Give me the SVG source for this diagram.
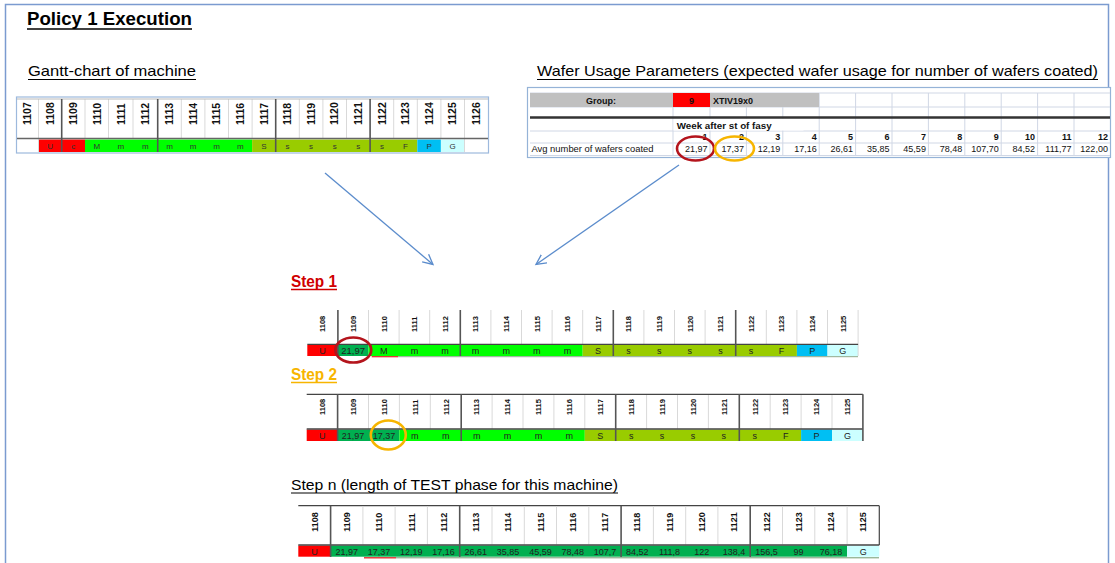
<svg xmlns="http://www.w3.org/2000/svg" width="1115" height="563" viewBox="0 0 1115 563">
<style>
.t{font-family:"Liberation Sans",Arial,sans-serif}
.ttl{font-family:"Liberation Sans",Arial,sans-serif;font-weight:bold;font-size:19px;fill:#000}
.sub{font-family:"Liberation Sans",Arial,sans-serif;font-size:15px;fill:#000}
.stp{font-family:"Liberation Sans",Arial,sans-serif;font-weight:bold;font-size:16px}
.h1{font-family:"Liberation Sans",Arial,sans-serif;font-weight:bold;font-size:10.5px;fill:#111}
.h2{font-family:"Liberation Sans",Arial,sans-serif;font-weight:bold;font-size:7.5px;fill:#111}
.h3{font-family:"Liberation Sans",Arial,sans-serif;font-weight:bold;font-size:9px;fill:#111}
.c1{font-family:"Liberation Sans",Arial,sans-serif;font-size:8px;fill:#333;text-anchor:middle}
.c2{font-family:"Liberation Sans",Arial,sans-serif;font-size:9px;fill:#222;text-anchor:middle}
.w{font-family:"Liberation Sans",Arial,sans-serif;font-size:9px;fill:#111}
.wb{font-family:"Liberation Sans",Arial,sans-serif;font-size:9px;font-weight:bold;fill:#111}
.r{text-anchor:end}
.lg{stroke:#d9d9d9;stroke-width:1}
.tk{stroke:#555;stroke-width:1.6}
.dk{stroke:#444;stroke-width:1.3}
.red{fill:#ff0000}.grn{fill:#00ff00}.dg{fill:#00b050}.yg{fill:#99cc00}.cy{fill:#00bff3}.lc{fill:#ccffff}
.arr{stroke:#5b8ccc;stroke-width:1.3;fill:none}
.er{fill:none;stroke:#b4141c;stroke-width:2.6}
.eo{fill:none;stroke:#f7b500;stroke-width:2.6}
.gl{stroke:#d0d7e5;stroke-width:1}
</style>
<defs>
<marker id="ah" markerWidth="12" markerHeight="12" refX="10" refY="5" orient="auto" markerUnits="userSpaceOnUse" viewBox="0 0 12 10">
<path d="M0,0 L10,5 L0,10" fill="none" stroke="#5b8ccc" stroke-width="1.3"/>
</marker>
</defs>
<rect width="1115" height="563" fill="#fff"/>
<path d="M5.5,563 V4.5 H1108.5 V563" fill="none" stroke="#7b9bd0" stroke-width="1.5"/>

<g id="titles">
<text class="ttl" x="27" y="25" textLength="165" lengthAdjust="spacingAndGlyphs">Policy 1 Execution</text>
<line x1="27" y1="29" x2="192" y2="29" stroke="#000" stroke-width="1.4"/>
<text class="sub" x="28" y="76" textLength="168" lengthAdjust="spacingAndGlyphs">Gantt-chart of machine</text>
<line x1="28" y1="79.5" x2="196" y2="79.5" stroke="#000" stroke-width="1"/>
<text class="sub" x="537" y="76" textLength="561" lengthAdjust="spacingAndGlyphs">Wafer Usage Parameters (expected wafer usage for number of wafers coated)</text>
<line x1="537" y1="79.5" x2="1098" y2="79.5" stroke="#000" stroke-width="1"/>
</g>

<g id="gantt-machine">
<rect x="16.5" y="97" width="472" height="56" fill="#fff" stroke="#9db9dd" stroke-width="1.2"/>
<rect x="38.5" y="139.5" width="46.5" height="12.5" class="red"/>
<rect x="85" y="139.5" width="167.1" height="12.5" class="grn"/>
<rect x="252.1" y="139.5" width="165.2" height="12.5" class="yg"/>
<rect x="417.3" y="139.5" width="23.6" height="12.5" class="cy"/>
<rect x="440.9" y="139.5" width="23.6" height="12.5" class="lc"/>
<g class="lg">
<line x1="38.5" y1="99" x2="38.5" y2="152"/><line x1="85" y1="99" x2="85" y2="138"/><line x1="108.5" y1="99" x2="108.5" y2="138"/><line x1="133" y1="99" x2="133" y2="138"/><line x1="181.3" y1="99" x2="181.3" y2="138"/><line x1="204.9" y1="99" x2="204.9" y2="138"/><line x1="228.5" y1="99" x2="228.5" y2="138"/><line x1="252.1" y1="99" x2="252.1" y2="138"/><line x1="299.3" y1="99" x2="299.3" y2="138"/><line x1="322.9" y1="99" x2="322.9" y2="138"/><line x1="346.5" y1="99" x2="346.5" y2="138"/><line x1="393.7" y1="99" x2="393.7" y2="138"/><line x1="417.3" y1="99" x2="417.3" y2="138"/><line x1="440.9" y1="99" x2="440.9" y2="138"/><line x1="464.5" y1="99" x2="464.5" y2="152"/>
</g>
<line x1="17" y1="99" x2="488" y2="99" stroke="#bbb" stroke-width="1"/>
<line x1="17" y1="138.5" x2="488" y2="138.5" stroke="#666" stroke-width="1.5"/>
<g class="tk">
<line x1="61.7" y1="99" x2="61.7" y2="152"/><line x1="157.7" y1="99" x2="157.7" y2="152"/><line x1="275.7" y1="99" x2="275.7" y2="152"/><line x1="370.1" y1="99" x2="370.1" y2="152"/>
</g>
<g class="h1">
<text transform="translate(31.3,125) rotate(-90)">1107</text>
<text transform="translate(53.8,125) rotate(-90)">1108</text>
<text transform="translate(77.1,125) rotate(-90)">1109</text>
<text transform="translate(100.5,125) rotate(-90)">1110</text>
<text transform="translate(124.5,125) rotate(-90)">1111</text>
<text transform="translate(149.1,125) rotate(-90)">1112</text>
<text transform="translate(173.2,125) rotate(-90)">1113</text>
<text transform="translate(196.8,125) rotate(-90)">1114</text>
<text transform="translate(220.4,125) rotate(-90)">1115</text>
<text transform="translate(244,125) rotate(-90)">1116</text>
<text transform="translate(267.6,125) rotate(-90)">1117</text>
<text transform="translate(291.2,125) rotate(-90)">1118</text>
<text transform="translate(314.8,125) rotate(-90)">1119</text>
<text transform="translate(338.4,125) rotate(-90)">1120</text>
<text transform="translate(362,125) rotate(-90)">1121</text>
<text transform="translate(385.6,125) rotate(-90)">1122</text>
<text transform="translate(409.2,125) rotate(-90)">1123</text>
<text transform="translate(432.8,125) rotate(-90)">1124</text>
<text transform="translate(456.4,125) rotate(-90)">1125</text>
<text transform="translate(480,125) rotate(-90)">1126</text>
</g>
<g class="c1">
<text x="50.1" y="149">U</text><text x="73.35" y="149">c</text><text x="96.75" y="149">M</text>
<text x="120.75" y="149">m</text><text x="145.35" y="149">m</text><text x="169.5" y="149">m</text><text x="193.1" y="149">m</text><text x="216.7" y="149">m</text><text x="240.3" y="149">m</text>
<text x="263.9" y="149">S</text><text x="287.5" y="149">s</text><text x="311.1" y="149">s</text><text x="334.7" y="149">s</text><text x="358.3" y="149">s</text><text x="381.9" y="149">s</text>
<text x="405.5" y="149">F</text><text x="429.1" y="149">P</text><text x="452.7" y="149">G</text>
</g>
</g>

<g id="wafer-table">
<rect x="527.5" y="87.5" width="583" height="70" fill="#fff" stroke="#95b3d7" stroke-width="1.2"/>
<g class="gl">
<line x1="530" y1="107" x2="1110" y2="107"/><line x1="530" y1="131" x2="1110" y2="131"/><line x1="530" y1="143" x2="1110" y2="143"/><line x1="530" y1="155.5" x2="1110" y2="155.5"/><line x1="530" y1="93" x2="1110" y2="93"/>
<line x1="673" y1="93" x2="673" y2="156"/><line x1="710" y1="93" x2="710" y2="156"/><line x1="746.4" y1="93" x2="746.4" y2="156"/><line x1="782.8" y1="93" x2="782.8" y2="156"/><line x1="819.2" y1="93" x2="819.2" y2="156"/><line x1="855.6" y1="93" x2="855.6" y2="156"/><line x1="892" y1="93" x2="892" y2="156"/><line x1="928.4" y1="93" x2="928.4" y2="156"/><line x1="964.8" y1="93" x2="964.8" y2="156"/><line x1="1001.2" y1="93" x2="1001.2" y2="156"/><line x1="1037.6" y1="93" x2="1037.6" y2="156"/><line x1="1074" y1="93" x2="1074" y2="156"/>
</g>
<rect x="530" y="93" width="289" height="14" fill="#c0c0c0"/>
<rect x="673" y="93" width="37" height="14" fill="#ff0000"/>
<rect x="673.5" y="118.5" width="130" height="12" fill="#fff"/>
<line x1="530" y1="117.5" x2="1110" y2="117.5" stroke="#333" stroke-width="2.5"/>
<text class="wb" x="601" y="103.5" text-anchor="middle">Group:</text>
<text class="wb" x="691.5" y="103.5" text-anchor="middle">9</text>
<text class="wb" x="713" y="103.5">XTIV19x0</text>
<text class="wb" x="676.7" y="128.5" textLength="95" lengthAdjust="spacingAndGlyphs">Week after st of fasy</text>
<g class="wb r">
<text x="707.5" y="140">1</text><text x="744" y="140">2</text><text x="780.3" y="140">3</text><text x="816.7" y="140">4</text><text x="853.1" y="140">5</text><text x="889.5" y="140">6</text><text x="925.9" y="140">7</text><text x="962.3" y="140">8</text><text x="998.7" y="140">9</text><text x="1035.1" y="140">10</text><text x="1071.5" y="140">11</text><text x="1107.9" y="140">12</text>
</g>
<text class="w" x="531.5" y="152" textLength="122" lengthAdjust="spacingAndGlyphs">Avg number of wafers coated</text>
<g class="w r">
<text x="707.5" y="152">21,97</text><text x="744" y="152">17,37</text><text x="780.3" y="152">12,19</text><text x="816.7" y="152">17,16</text><text x="853.1" y="152">26,61</text><text x="889.5" y="152">35,85</text><text x="925.9" y="152">45,59</text><text x="962.3" y="152">78,48</text><text x="998.7" y="152">107,70</text><text x="1035.1" y="152">84,52</text><text x="1071.5" y="152">111,77</text><text x="1107.9" y="152">122,00</text>
</g>
<ellipse class="er" cx="695.5" cy="148.5" rx="18.5" ry="12"/>
<ellipse class="eo" cx="734.5" cy="148.5" rx="19.5" ry="12"/>
</g>

<g id="connectors">
<line class="arr" x1="325" y1="173" x2="433" y2="264.5" marker-end="url(#ah)"/>
<line class="arr" x1="679" y1="165" x2="536" y2="264.5" marker-end="url(#ah)"/>
</g>

<g id="step1">
<text class="stp" x="291" y="287" fill="#d00000" textLength="46" lengthAdjust="spacingAndGlyphs">Step 1</text>
<line x1="291" y1="289.5" x2="337" y2="289.5" stroke="#d00000" stroke-width="1.3"/>
<rect x="307.3" y="345" width="30.6" height="11" class="red"/>
<rect x="337.9" y="345" width="30.6" height="11" class="dg"/>
<rect x="368.5" y="345" width="214.2" height="11" class="grn"/>
<rect x="582.7" y="345" width="214.2" height="11" class="yg"/>
<rect x="796.9" y="345" width="30.6" height="11" class="cy"/>
<rect x="827.5" y="345" width="30.6" height="11" class="lc"/>
<line x1="398" y1="356.7" x2="858" y2="356.7" stroke="#8aa88a" stroke-width="1"/>
<line x1="371.7" y1="356.7" x2="398" y2="356.7" stroke="#e02020" stroke-width="1.2"/>
<g class="lg">
<line x1="368.5" y1="310" x2="368.5" y2="344"/><line x1="399.1" y1="310" x2="399.1" y2="344"/><line x1="429.7" y1="310" x2="429.7" y2="344"/><line x1="490.9" y1="310" x2="490.9" y2="344"/><line x1="521.5" y1="310" x2="521.5" y2="344"/><line x1="552.1" y1="310" x2="552.1" y2="344"/><line x1="582.7" y1="310" x2="582.7" y2="344"/><line x1="643.9" y1="310" x2="643.9" y2="344"/><line x1="674.5" y1="310" x2="674.5" y2="344"/><line x1="705.1" y1="310" x2="705.1" y2="344"/><line x1="766.3" y1="310" x2="766.3" y2="344"/><line x1="796.9" y1="310" x2="796.9" y2="344"/><line x1="827.5" y1="310" x2="827.5" y2="344"/><line x1="858.1" y1="310" x2="858.1" y2="356"/>
</g>
<line x1="307.3" y1="344.3" x2="858.1" y2="344.3" class="dk"/>
<g class="tk">
<line x1="337.9" y1="310" x2="337.9" y2="356"/><line x1="460.3" y1="310" x2="460.3" y2="356"/><line x1="613.3" y1="310" x2="613.3" y2="356"/><line x1="735.7" y1="310" x2="735.7" y2="356"/>
</g>
<g class="h2">
<text transform="translate(325.3,332) rotate(-90)">1108</text>
<text transform="translate(355.9,332) rotate(-90)">1109</text>
<text transform="translate(386.5,332) rotate(-90)">1110</text>
<text transform="translate(417.1,332) rotate(-90)">1111</text>
<text transform="translate(447.7,332) rotate(-90)">1112</text>
<text transform="translate(478.3,332) rotate(-90)">1113</text>
<text transform="translate(508.9,332) rotate(-90)">1114</text>
<text transform="translate(539.5,332) rotate(-90)">1115</text>
<text transform="translate(570.1,332) rotate(-90)">1116</text>
<text transform="translate(600.7,332) rotate(-90)">1117</text>
<text transform="translate(631.3,332) rotate(-90)">1118</text>
<text transform="translate(661.9,332) rotate(-90)">1119</text>
<text transform="translate(692.5,332) rotate(-90)">1120</text>
<text transform="translate(723.1,332) rotate(-90)">1121</text>
<text transform="translate(753.7,332) rotate(-90)">1122</text>
<text transform="translate(784.3,332) rotate(-90)">1123</text>
<text transform="translate(814.9,332) rotate(-90)">1124</text>
<text transform="translate(845.5,332) rotate(-90)">1125</text>
</g>
<g class="c2">
<text x="322.6" y="354">U</text><text x="353.2" y="354" font-size="9.5">21,97</text><text x="383.8" y="354">M</text>
<text x="414.4" y="354">m</text><text x="445" y="354">m</text><text x="475.6" y="354">m</text><text x="506.2" y="354">m</text><text x="536.8" y="354">m</text><text x="567.4" y="354">m</text>
<text x="598" y="354">S</text><text x="628.6" y="354">s</text><text x="659.2" y="354">s</text><text x="689.8" y="354">s</text><text x="720.4" y="354">s</text><text x="751" y="354">s</text>
<text x="781.6" y="354">F</text><text x="812.2" y="354">P</text><text x="842.8" y="354">G</text>
</g>
<ellipse class="er" cx="353.3" cy="350" rx="18" ry="12.5"/>
</g>

<g id="step2">
<text class="stp" x="291" y="380" fill="#f7b500" textLength="46" lengthAdjust="spacingAndGlyphs">Step 2</text>
<line x1="291" y1="382.5" x2="337" y2="382.5" stroke="#f7b500" stroke-width="1.3"/>
<rect x="306.7" y="429.5" width="30.9" height="11.5" class="red"/>
<rect x="337.6" y="429.5" width="61.8" height="11.5" class="dg"/>
<rect x="399.4" y="429.5" width="185.4" height="11.5" class="grn"/>
<rect x="584.8" y="429.5" width="216.3" height="11.5" class="yg"/>
<rect x="801.1" y="429.5" width="30.9" height="11.5" class="cy"/>
<rect x="832" y="429.5" width="30.9" height="11.5" class="lc"/>
<line x1="306.7" y1="394.3" x2="862.9" y2="394.3" class="dk"/>
<g class="lg">
<line x1="368.5" y1="395" x2="368.5" y2="429"/><line x1="399.4" y1="395" x2="399.4" y2="429"/><line x1="430.3" y1="395" x2="430.3" y2="429"/><line x1="492.1" y1="395" x2="492.1" y2="429"/><line x1="523" y1="395" x2="523" y2="429"/><line x1="553.9" y1="395" x2="553.9" y2="429"/><line x1="584.8" y1="395" x2="584.8" y2="429"/><line x1="646.6" y1="395" x2="646.6" y2="429"/><line x1="677.5" y1="395" x2="677.5" y2="429"/><line x1="708.4" y1="395" x2="708.4" y2="429"/><line x1="770.2" y1="395" x2="770.2" y2="429"/><line x1="801.1" y1="395" x2="801.1" y2="429"/><line x1="832" y1="395" x2="832" y2="429"/>
</g>
<line x1="306.7" y1="429" x2="862.9" y2="429" class="dk"/>
<g class="tk">
<line x1="337.6" y1="394.3" x2="337.6" y2="441"/><line x1="461.2" y1="394.3" x2="461.2" y2="441"/><line x1="615.7" y1="394.3" x2="615.7" y2="441"/><line x1="739.3" y1="394.3" x2="739.3" y2="441"/><line x1="862.9" y1="394.3" x2="862.9" y2="441"/>
</g>
<g class="h2">
<text transform="translate(324.9,415) rotate(-90)">1108</text>
<text transform="translate(355.8,415) rotate(-90)">1109</text>
<text transform="translate(386.7,415) rotate(-90)">1110</text>
<text transform="translate(417.6,415) rotate(-90)">1111</text>
<text transform="translate(448.5,415) rotate(-90)">1112</text>
<text transform="translate(479.4,415) rotate(-90)">1113</text>
<text transform="translate(510.3,415) rotate(-90)">1114</text>
<text transform="translate(541.2,415) rotate(-90)">1115</text>
<text transform="translate(572.1,415) rotate(-90)">1116</text>
<text transform="translate(603,415) rotate(-90)">1117</text>
<text transform="translate(633.9,415) rotate(-90)">1118</text>
<text transform="translate(664.8,415) rotate(-90)">1119</text>
<text transform="translate(695.7,415) rotate(-90)">1120</text>
<text transform="translate(726.6,415) rotate(-90)">1121</text>
<text transform="translate(757.5,415) rotate(-90)">1122</text>
<text transform="translate(788.4,415) rotate(-90)">1123</text>
<text transform="translate(819.3,415) rotate(-90)">1124</text>
<text transform="translate(850.2,415) rotate(-90)">1125</text>
</g>
<g class="c2">
<text x="322.15" y="439">U</text><text x="353.05" y="439">21,97</text><text x="383.95" y="439">17,37</text>
<text x="414.85" y="439">m</text><text x="445.75" y="439">m</text><text x="476.65" y="439">m</text><text x="507.55" y="439">m</text><text x="538.45" y="439">m</text><text x="569.35" y="439">m</text>
<text x="600.25" y="439">S</text><text x="631.15" y="439">s</text><text x="662.05" y="439">s</text><text x="692.95" y="439">s</text><text x="723.85" y="439">s</text><text x="754.75" y="439">s</text>
<text x="785.65" y="439">F</text><text x="816.55" y="439">P</text><text x="847.45" y="439">G</text>
</g>
<ellipse class="eo" cx="388.3" cy="435" rx="17.5" ry="14.5"/>
</g>

<g id="stepn">
<text class="sub" x="291" y="490" textLength="327" lengthAdjust="spacingAndGlyphs">Step n (length of TEST phase for this machine)</text>
<line x1="291" y1="493" x2="618" y2="493" stroke="#000" stroke-width="1"/>
<rect x="298.3" y="545.5" width="32.3" height="11.2" class="red"/>
<rect x="330.6" y="545.5" width="516.5" height="11.2" class="dg"/>
<rect x="847.1" y="545.5" width="32.2" height="11.2" class="lc"/>
<line x1="396" y1="557.8" x2="879" y2="557.8" stroke="#6f9a6f" stroke-width="1"/>
<line x1="364" y1="557.8" x2="396" y2="557.8" stroke="#e02020" stroke-width="1.3"/>
<line x1="298.3" y1="505.7" x2="879.3" y2="505.7" class="dk"/>
<g class="lg">
<line x1="362.9" y1="506.5" x2="362.9" y2="544.5"/><line x1="395.1" y1="506.5" x2="395.1" y2="544.5"/><line x1="427.4" y1="506.5" x2="427.4" y2="544.5"/><line x1="492" y1="506.5" x2="492" y2="544.5"/><line x1="524.3" y1="506.5" x2="524.3" y2="544.5"/><line x1="556.5" y1="506.5" x2="556.5" y2="544.5"/><line x1="588.8" y1="506.5" x2="588.8" y2="544.5"/><line x1="653.4" y1="506.5" x2="653.4" y2="544.5"/><line x1="685.7" y1="506.5" x2="685.7" y2="544.5"/><line x1="717.9" y1="506.5" x2="717.9" y2="544.5"/><line x1="782.5" y1="506.5" x2="782.5" y2="544.5"/><line x1="814.8" y1="506.5" x2="814.8" y2="544.5"/><line x1="847.1" y1="506.5" x2="847.1" y2="544.5"/>
</g>
<line x1="298.3" y1="545" x2="879.3" y2="545" class="dk"/>
<line x1="879.3" y1="505.7" x2="879.3" y2="545" stroke="#444" stroke-width="1.2"/>
<g class="tk">
<line x1="330.6" y1="505.7" x2="330.6" y2="557"/><line x1="459.7" y1="505.7" x2="459.7" y2="557"/><line x1="621.1" y1="505.7" x2="621.1" y2="557"/><line x1="750.2" y1="505.7" x2="750.2" y2="557"/>
</g>
<g class="h3">
<text transform="translate(317.6,531.7) rotate(-90)">1108</text>
<text transform="translate(349.9,531.7) rotate(-90)">1109</text>
<text transform="translate(382.2,531.7) rotate(-90)">1110</text>
<text transform="translate(414.5,531.7) rotate(-90)">1111</text>
<text transform="translate(446.8,531.7) rotate(-90)">1112</text>
<text transform="translate(479,531.7) rotate(-90)">1113</text>
<text transform="translate(511.3,531.7) rotate(-90)">1114</text>
<text transform="translate(543.6,531.7) rotate(-90)">1115</text>
<text transform="translate(575.9,531.7) rotate(-90)">1116</text>
<text transform="translate(608.2,531.7) rotate(-90)">1117</text>
<text transform="translate(640.4,531.7) rotate(-90)">1118</text>
<text transform="translate(672.7,531.7) rotate(-90)">1119</text>
<text transform="translate(705,531.7) rotate(-90)">1120</text>
<text transform="translate(737.3,531.7) rotate(-90)">1121</text>
<text transform="translate(769.6,531.7) rotate(-90)">1122</text>
<text transform="translate(801.8,531.7) rotate(-90)">1123</text>
<text transform="translate(834.1,531.7) rotate(-90)">1124</text>
<text transform="translate(866.4,531.7) rotate(-90)">1125</text>
</g>
<g class="c2">
<text x="314.4" y="554.5">U</text><text x="346.7" y="554.5">21,97</text><text x="379" y="554.5">17,37</text><text x="411.3" y="554.5">12,19</text><text x="443.6" y="554.5">17,16</text><text x="475.8" y="554.5">26,61</text><text x="508.1" y="554.5">35,85</text><text x="540.4" y="554.5">45,59</text><text x="572.7" y="554.5">78,48</text><text x="605" y="554.5">107,7</text><text x="637.2" y="554.5">84,52</text><text x="669.5" y="554.5">111,8</text><text x="701.8" y="554.5">122</text><text x="734.1" y="554.5">138,4</text><text x="766.4" y="554.5">156,5</text><text x="798.6" y="554.5">99</text><text x="830.9" y="554.5">76,18</text><text x="863.2" y="554.5">G</text>
</g>
</g>
</svg>
